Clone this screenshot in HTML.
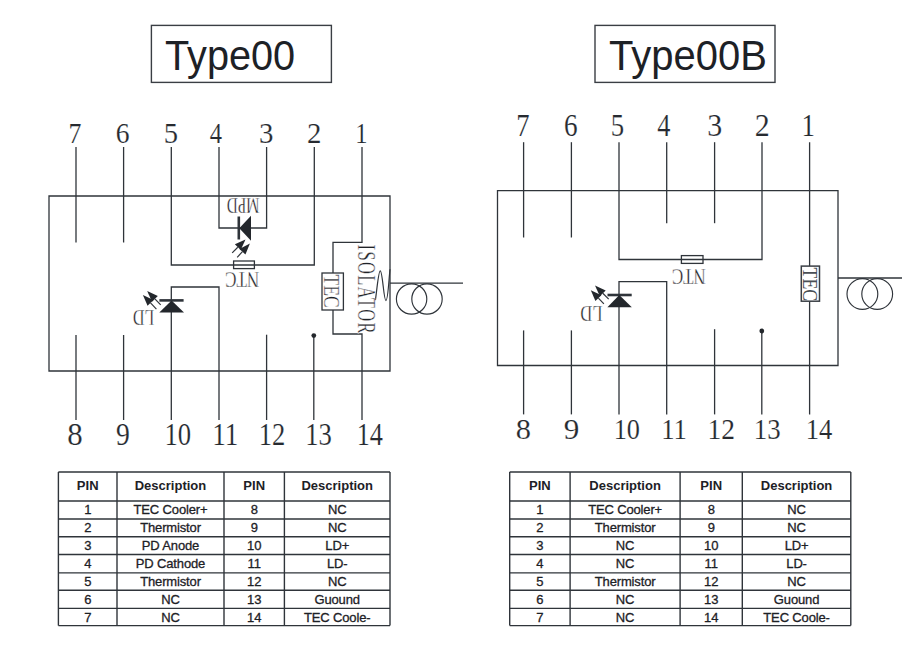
<!DOCTYPE html>
<html><head><meta charset="utf-8"><style>
html,body{margin:0;padding:0;background:#fff;}
body{width:924px;height:646px;overflow:hidden;font-family:"Liberation Sans",sans-serif;}
svg{position:absolute;left:0;top:0;}
</style></head><body>
<svg width="924" height="646" viewBox="0 0 924 646">
<rect x="151.4" y="25.4" width="180" height="57" fill="none" stroke="#3a3e44" stroke-width="1.4"/>
<rect x="595" y="25.4" width="180" height="57" fill="none" stroke="#3a3e44" stroke-width="1.4"/>
<path d="M49,196 H390 V371 H49 Z" fill="none" stroke="#2f343a" stroke-width="1.3"/>
<path d="M76,147 V242.5" fill="none" stroke="#2f343a" stroke-width="1.3"/>
<path d="M123.6,147 V242.5" fill="none" stroke="#2f343a" stroke-width="1.3"/>
<path d="M171.3,147 V265 H314.3 V147" fill="none" stroke="#2f343a" stroke-width="1.3"/>
<path d="M219,147 V228 H266.6 V147" fill="none" stroke="#2f343a" stroke-width="1.3"/>
<path d="M238.8,216.5 V239.5" fill="none" stroke="#2f343a" stroke-width="2.6"/>
<path d="M251,215.8 V240.8 L239.3,228.3 Z" fill="#23272c"/>
<path d="M232.20,252.90 L237.78,247.24" fill="none" stroke="#2f343a" stroke-width="1.2"/>
<path d="M245.50,239.40 L240.70,250.11 L234.86,244.36 Z" fill="#23272c"/>
<path d="M237.20,257.30 L242.42,251.67" fill="none" stroke="#2f343a" stroke-width="1.2"/>
<path d="M249.90,243.60 L245.43,254.45 L239.42,248.88 Z" fill="#23272c"/>
<rect x="233.6" y="261" width="20.8" height="7.6" fill="none" stroke="#2f343a" stroke-width="1.3"/>
<path d="M362,147 V242.4 H333 V273" fill="none" stroke="#2f343a" stroke-width="1.3"/>
<rect x="322" y="273" width="21.4" height="37" fill="none" stroke="#2f343a" stroke-width="1.3"/>
<path d="M333,310 V334 H362 V420" fill="none" stroke="#2f343a" stroke-width="1.3"/>
<path d="M375.4,300.2 C377.5,285 378.5,270.8 380.3,270.8 C382.5,270.8 383.8,300.6 385.9,300.6 C388,300.6 388.8,280 390,269.3" fill="none" stroke="#2f343a" stroke-width="1.2"/>
<path d="M390,283.2 H463" fill="none" stroke="#2f343a" stroke-width="1.3"/>
<circle cx="411.6" cy="299" r="15.2" fill="none" stroke="#2f343a" stroke-width="1.15"/>
<circle cx="427" cy="299" r="15.2" fill="none" stroke="#2f343a" stroke-width="1.15"/>
<path d="M76,335 V420" fill="none" stroke="#2f343a" stroke-width="1.3"/>
<path d="M123.6,335 V420" fill="none" stroke="#2f343a" stroke-width="1.3"/>
<path d="M171.3,420 V287 H219 V420" fill="none" stroke="#2f343a" stroke-width="1.3"/>
<path d="M159.4,300.4 H183.6" fill="none" stroke="#2f343a" stroke-width="2.6"/>
<path d="M159.3,312.6 H184 L171.6,300.4 Z" fill="#23272c"/>
<path d="M156.40,309.10 L150.51,302.95" fill="none" stroke="#2f343a" stroke-width="1.2"/>
<path d="M142.90,295.00 L153.47,300.11 L147.55,305.78 Z" fill="#23272c"/>
<path d="M160.70,304.80 L154.89,298.86" fill="none" stroke="#2f343a" stroke-width="1.2"/>
<path d="M147.20,291.00 L157.82,296.00 L151.96,301.73 Z" fill="#23272c"/>
<path d="M266.6,334.7 V420" fill="none" stroke="#2f343a" stroke-width="1.3"/>
<path d="M313.8,335.6 V420" fill="none" stroke="#2f343a" stroke-width="1.3"/>
<circle cx="313.8" cy="335.6" r="2.4" fill="#23272c"/>
<path d="M497.5,190.6 H838 V365.5 H497.5 Z" fill="none" stroke="#2f343a" stroke-width="1.3"/>
<path d="M523.6,142.2 V237.5" fill="none" stroke="#2f343a" stroke-width="1.3"/>
<path d="M571.4,142.2 V237.5" fill="none" stroke="#2f343a" stroke-width="1.3"/>
<path d="M666.7,142.2 V223.2" fill="none" stroke="#2f343a" stroke-width="1.3"/>
<path d="M714.6,142.2 V223.2" fill="none" stroke="#2f343a" stroke-width="1.3"/>
<path d="M619,142.2 V259.5 H762 V142.2" fill="none" stroke="#2f343a" stroke-width="1.3"/>
<rect x="681.4" y="255.6" width="21.6" height="7.8" fill="none" stroke="#2f343a" stroke-width="1.3"/>
<path d="M809.6,142.2 V414.4" fill="none" stroke="#2f343a" stroke-width="1.3"/>
<rect x="801.3" y="266.1" width="18.2" height="35.1" fill="#fff" stroke="#3a3f45" stroke-width="1.5"/>
<path d="M523.6,330.4 V414.4" fill="none" stroke="#2f343a" stroke-width="1.3"/>
<path d="M571.4,330.4 V414.4" fill="none" stroke="#2f343a" stroke-width="1.3"/>
<path d="M714.6,329.2 V414.4" fill="none" stroke="#2f343a" stroke-width="1.3"/>
<path d="M761.8,331 V414.4" fill="none" stroke="#2f343a" stroke-width="1.3"/>
<circle cx="761.8" cy="331" r="2.4" fill="#23272c"/>
<path d="M619,414.4 V281.7 H666.7 V414.4" fill="none" stroke="#2f343a" stroke-width="1.3"/>
<path d="M607.5,295 H631.7" fill="none" stroke="#2f343a" stroke-width="2.6"/>
<path d="M607.4,307.3 H631.8 L619.3,295 Z" fill="#23272c"/>
<path d="M603.90,303.90 L598.40,298.15" fill="none" stroke="#2f343a" stroke-width="1.2"/>
<path d="M590.80,290.20 L601.37,295.32 L595.44,300.98 Z" fill="#23272c"/>
<path d="M608.70,299.20 L602.78,293.28" fill="none" stroke="#2f343a" stroke-width="1.2"/>
<path d="M595.00,285.50 L605.68,290.38 L599.88,296.18 Z" fill="#23272c"/>
<path d="M838,278 H902" fill="none" stroke="#2f343a" stroke-width="1.3"/>
<circle cx="862.4" cy="294" r="15.4" fill="none" stroke="#2f343a" stroke-width="1.15"/>
<circle cx="877.2" cy="294" r="15.4" fill="none" stroke="#2f343a" stroke-width="1.15"/>
<path d="M58.4,472 H390" fill="none" stroke="#2f343a" stroke-width="1.4"/>
<path d="M58.4,501 H390" fill="none" stroke="#2f343a" stroke-width="1.4"/>
<path d="M58.4,519 H390" fill="none" stroke="#2f343a" stroke-width="1.4"/>
<path d="M58.4,536.8 H390" fill="none" stroke="#2f343a" stroke-width="1.4"/>
<path d="M58.4,554.5 H390" fill="none" stroke="#2f343a" stroke-width="1.4"/>
<path d="M58.4,572.9 H390" fill="none" stroke="#2f343a" stroke-width="1.4"/>
<path d="M58.4,590.3 H390" fill="none" stroke="#2f343a" stroke-width="1.4"/>
<path d="M58.4,608.4 H390" fill="none" stroke="#2f343a" stroke-width="1.4"/>
<path d="M58.4,625.6 H390" fill="none" stroke="#2f343a" stroke-width="1.4"/>
<path d="M58.4,472 V625.6" fill="none" stroke="#2f343a" stroke-width="1.4"/>
<path d="M117,472 V625.6" fill="none" stroke="#2f343a" stroke-width="1.4"/>
<path d="M224,472 V625.6" fill="none" stroke="#2f343a" stroke-width="1.4"/>
<path d="M284.4,472 V625.6" fill="none" stroke="#2f343a" stroke-width="1.4"/>
<path d="M390,472 V625.6" fill="none" stroke="#2f343a" stroke-width="1.4"/>
<text x="87.70" y="490" text-anchor="middle" font-family="Liberation Sans" font-weight="bold" font-size="13" fill="#1d2126">PIN</text>
<text x="170.50" y="490" text-anchor="middle" font-family="Liberation Sans" font-weight="bold" font-size="13" fill="#1d2126">Description</text>
<text x="254.20" y="490" text-anchor="middle" font-family="Liberation Sans" font-weight="bold" font-size="13" fill="#1d2126">PIN</text>
<text x="337.20" y="490" text-anchor="middle" font-family="Liberation Sans" font-weight="bold" font-size="13" fill="#1d2126">Description</text>
<text x="87.70" y="514.4" text-anchor="middle" font-family="Liberation Sans" font-size="13" fill="#1d2126" stroke="#1d2126" stroke-width="0.3" letter-spacing="-0.15">1</text>
<text x="170.50" y="514.4" text-anchor="middle" font-family="Liberation Sans" font-size="13" fill="#1d2126" stroke="#1d2126" stroke-width="0.3" letter-spacing="-0.15">TEC Cooler+</text>
<text x="254.20" y="514.4" text-anchor="middle" font-family="Liberation Sans" font-size="13" fill="#1d2126" stroke="#1d2126" stroke-width="0.3" letter-spacing="-0.15">8</text>
<text x="337.20" y="514.4" text-anchor="middle" font-family="Liberation Sans" font-size="13" fill="#1d2126" stroke="#1d2126" stroke-width="0.3" letter-spacing="-0.15">NC</text>
<text x="87.70" y="532.4" text-anchor="middle" font-family="Liberation Sans" font-size="13" fill="#1d2126" stroke="#1d2126" stroke-width="0.3" letter-spacing="-0.15">2</text>
<text x="170.50" y="532.4" text-anchor="middle" font-family="Liberation Sans" font-size="13" fill="#1d2126" stroke="#1d2126" stroke-width="0.3" letter-spacing="-0.15">Thermistor</text>
<text x="254.20" y="532.4" text-anchor="middle" font-family="Liberation Sans" font-size="13" fill="#1d2126" stroke="#1d2126" stroke-width="0.3" letter-spacing="-0.15">9</text>
<text x="337.20" y="532.4" text-anchor="middle" font-family="Liberation Sans" font-size="13" fill="#1d2126" stroke="#1d2126" stroke-width="0.3" letter-spacing="-0.15">NC</text>
<text x="87.70" y="550.1999999999999" text-anchor="middle" font-family="Liberation Sans" font-size="13" fill="#1d2126" stroke="#1d2126" stroke-width="0.3" letter-spacing="-0.15">3</text>
<text x="170.50" y="550.1999999999999" text-anchor="middle" font-family="Liberation Sans" font-size="13" fill="#1d2126" stroke="#1d2126" stroke-width="0.3" letter-spacing="-0.15">PD Anode</text>
<text x="254.20" y="550.1999999999999" text-anchor="middle" font-family="Liberation Sans" font-size="13" fill="#1d2126" stroke="#1d2126" stroke-width="0.3" letter-spacing="-0.15">10</text>
<text x="337.20" y="550.1999999999999" text-anchor="middle" font-family="Liberation Sans" font-size="13" fill="#1d2126" stroke="#1d2126" stroke-width="0.3" letter-spacing="-0.15">LD+</text>
<text x="87.70" y="567.9" text-anchor="middle" font-family="Liberation Sans" font-size="13" fill="#1d2126" stroke="#1d2126" stroke-width="0.3" letter-spacing="-0.15">4</text>
<text x="170.50" y="567.9" text-anchor="middle" font-family="Liberation Sans" font-size="13" fill="#1d2126" stroke="#1d2126" stroke-width="0.3" letter-spacing="-0.15">PD Cathode</text>
<text x="254.20" y="567.9" text-anchor="middle" font-family="Liberation Sans" font-size="13" fill="#1d2126" stroke="#1d2126" stroke-width="0.3" letter-spacing="-0.15">11</text>
<text x="337.20" y="567.9" text-anchor="middle" font-family="Liberation Sans" font-size="13" fill="#1d2126" stroke="#1d2126" stroke-width="0.3" letter-spacing="-0.15">LD-</text>
<text x="87.70" y="586.3" text-anchor="middle" font-family="Liberation Sans" font-size="13" fill="#1d2126" stroke="#1d2126" stroke-width="0.3" letter-spacing="-0.15">5</text>
<text x="170.50" y="586.3" text-anchor="middle" font-family="Liberation Sans" font-size="13" fill="#1d2126" stroke="#1d2126" stroke-width="0.3" letter-spacing="-0.15">Thermistor</text>
<text x="254.20" y="586.3" text-anchor="middle" font-family="Liberation Sans" font-size="13" fill="#1d2126" stroke="#1d2126" stroke-width="0.3" letter-spacing="-0.15">12</text>
<text x="337.20" y="586.3" text-anchor="middle" font-family="Liberation Sans" font-size="13" fill="#1d2126" stroke="#1d2126" stroke-width="0.3" letter-spacing="-0.15">NC</text>
<text x="87.70" y="603.6999999999999" text-anchor="middle" font-family="Liberation Sans" font-size="13" fill="#1d2126" stroke="#1d2126" stroke-width="0.3" letter-spacing="-0.15">6</text>
<text x="170.50" y="603.6999999999999" text-anchor="middle" font-family="Liberation Sans" font-size="13" fill="#1d2126" stroke="#1d2126" stroke-width="0.3" letter-spacing="-0.15">NC</text>
<text x="254.20" y="603.6999999999999" text-anchor="middle" font-family="Liberation Sans" font-size="13" fill="#1d2126" stroke="#1d2126" stroke-width="0.3" letter-spacing="-0.15">13</text>
<text x="337.20" y="603.6999999999999" text-anchor="middle" font-family="Liberation Sans" font-size="13" fill="#1d2126" stroke="#1d2126" stroke-width="0.3" letter-spacing="-0.15">Guound</text>
<text x="87.70" y="621.8" text-anchor="middle" font-family="Liberation Sans" font-size="13" fill="#1d2126" stroke="#1d2126" stroke-width="0.3" letter-spacing="-0.15">7</text>
<text x="170.50" y="621.8" text-anchor="middle" font-family="Liberation Sans" font-size="13" fill="#1d2126" stroke="#1d2126" stroke-width="0.3" letter-spacing="-0.15">NC</text>
<text x="254.20" y="621.8" text-anchor="middle" font-family="Liberation Sans" font-size="13" fill="#1d2126" stroke="#1d2126" stroke-width="0.3" letter-spacing="-0.15">14</text>
<text x="337.20" y="621.8" text-anchor="middle" font-family="Liberation Sans" font-size="13" fill="#1d2126" stroke="#1d2126" stroke-width="0.3" letter-spacing="-0.15">TEC Coole-</text>
<path d="M509.7,472 H850.8" fill="none" stroke="#2f343a" stroke-width="1.4"/>
<path d="M509.7,501 H850.8" fill="none" stroke="#2f343a" stroke-width="1.4"/>
<path d="M509.7,519 H850.8" fill="none" stroke="#2f343a" stroke-width="1.4"/>
<path d="M509.7,536.8 H850.8" fill="none" stroke="#2f343a" stroke-width="1.4"/>
<path d="M509.7,554.5 H850.8" fill="none" stroke="#2f343a" stroke-width="1.4"/>
<path d="M509.7,572.9 H850.8" fill="none" stroke="#2f343a" stroke-width="1.4"/>
<path d="M509.7,590.3 H850.8" fill="none" stroke="#2f343a" stroke-width="1.4"/>
<path d="M509.7,608.4 H850.8" fill="none" stroke="#2f343a" stroke-width="1.4"/>
<path d="M509.7,625.6 H850.8" fill="none" stroke="#2f343a" stroke-width="1.4"/>
<path d="M509.7,472 V625.6" fill="none" stroke="#2f343a" stroke-width="1.4"/>
<path d="M570.1,472 V625.6" fill="none" stroke="#2f343a" stroke-width="1.4"/>
<path d="M680.1,472 V625.6" fill="none" stroke="#2f343a" stroke-width="1.4"/>
<path d="M742.3,472 V625.6" fill="none" stroke="#2f343a" stroke-width="1.4"/>
<path d="M850.8,472 V625.6" fill="none" stroke="#2f343a" stroke-width="1.4"/>
<text x="539.90" y="490" text-anchor="middle" font-family="Liberation Sans" font-weight="bold" font-size="13" fill="#1d2126">PIN</text>
<text x="625.10" y="490" text-anchor="middle" font-family="Liberation Sans" font-weight="bold" font-size="13" fill="#1d2126">Description</text>
<text x="711.20" y="490" text-anchor="middle" font-family="Liberation Sans" font-weight="bold" font-size="13" fill="#1d2126">PIN</text>
<text x="796.55" y="490" text-anchor="middle" font-family="Liberation Sans" font-weight="bold" font-size="13" fill="#1d2126">Description</text>
<text x="539.90" y="514.4" text-anchor="middle" font-family="Liberation Sans" font-size="13" fill="#1d2126" stroke="#1d2126" stroke-width="0.3" letter-spacing="-0.15">1</text>
<text x="625.10" y="514.4" text-anchor="middle" font-family="Liberation Sans" font-size="13" fill="#1d2126" stroke="#1d2126" stroke-width="0.3" letter-spacing="-0.15">TEC Cooler+</text>
<text x="711.20" y="514.4" text-anchor="middle" font-family="Liberation Sans" font-size="13" fill="#1d2126" stroke="#1d2126" stroke-width="0.3" letter-spacing="-0.15">8</text>
<text x="796.55" y="514.4" text-anchor="middle" font-family="Liberation Sans" font-size="13" fill="#1d2126" stroke="#1d2126" stroke-width="0.3" letter-spacing="-0.15">NC</text>
<text x="539.90" y="532.4" text-anchor="middle" font-family="Liberation Sans" font-size="13" fill="#1d2126" stroke="#1d2126" stroke-width="0.3" letter-spacing="-0.15">2</text>
<text x="625.10" y="532.4" text-anchor="middle" font-family="Liberation Sans" font-size="13" fill="#1d2126" stroke="#1d2126" stroke-width="0.3" letter-spacing="-0.15">Thermistor</text>
<text x="711.20" y="532.4" text-anchor="middle" font-family="Liberation Sans" font-size="13" fill="#1d2126" stroke="#1d2126" stroke-width="0.3" letter-spacing="-0.15">9</text>
<text x="796.55" y="532.4" text-anchor="middle" font-family="Liberation Sans" font-size="13" fill="#1d2126" stroke="#1d2126" stroke-width="0.3" letter-spacing="-0.15">NC</text>
<text x="539.90" y="550.1999999999999" text-anchor="middle" font-family="Liberation Sans" font-size="13" fill="#1d2126" stroke="#1d2126" stroke-width="0.3" letter-spacing="-0.15">3</text>
<text x="625.10" y="550.1999999999999" text-anchor="middle" font-family="Liberation Sans" font-size="13" fill="#1d2126" stroke="#1d2126" stroke-width="0.3" letter-spacing="-0.15">NC</text>
<text x="711.20" y="550.1999999999999" text-anchor="middle" font-family="Liberation Sans" font-size="13" fill="#1d2126" stroke="#1d2126" stroke-width="0.3" letter-spacing="-0.15">10</text>
<text x="796.55" y="550.1999999999999" text-anchor="middle" font-family="Liberation Sans" font-size="13" fill="#1d2126" stroke="#1d2126" stroke-width="0.3" letter-spacing="-0.15">LD+</text>
<text x="539.90" y="567.9" text-anchor="middle" font-family="Liberation Sans" font-size="13" fill="#1d2126" stroke="#1d2126" stroke-width="0.3" letter-spacing="-0.15">4</text>
<text x="625.10" y="567.9" text-anchor="middle" font-family="Liberation Sans" font-size="13" fill="#1d2126" stroke="#1d2126" stroke-width="0.3" letter-spacing="-0.15">NC</text>
<text x="711.20" y="567.9" text-anchor="middle" font-family="Liberation Sans" font-size="13" fill="#1d2126" stroke="#1d2126" stroke-width="0.3" letter-spacing="-0.15">11</text>
<text x="796.55" y="567.9" text-anchor="middle" font-family="Liberation Sans" font-size="13" fill="#1d2126" stroke="#1d2126" stroke-width="0.3" letter-spacing="-0.15">LD-</text>
<text x="539.90" y="586.3" text-anchor="middle" font-family="Liberation Sans" font-size="13" fill="#1d2126" stroke="#1d2126" stroke-width="0.3" letter-spacing="-0.15">5</text>
<text x="625.10" y="586.3" text-anchor="middle" font-family="Liberation Sans" font-size="13" fill="#1d2126" stroke="#1d2126" stroke-width="0.3" letter-spacing="-0.15">Thermistor</text>
<text x="711.20" y="586.3" text-anchor="middle" font-family="Liberation Sans" font-size="13" fill="#1d2126" stroke="#1d2126" stroke-width="0.3" letter-spacing="-0.15">12</text>
<text x="796.55" y="586.3" text-anchor="middle" font-family="Liberation Sans" font-size="13" fill="#1d2126" stroke="#1d2126" stroke-width="0.3" letter-spacing="-0.15">NC</text>
<text x="539.90" y="603.6999999999999" text-anchor="middle" font-family="Liberation Sans" font-size="13" fill="#1d2126" stroke="#1d2126" stroke-width="0.3" letter-spacing="-0.15">6</text>
<text x="625.10" y="603.6999999999999" text-anchor="middle" font-family="Liberation Sans" font-size="13" fill="#1d2126" stroke="#1d2126" stroke-width="0.3" letter-spacing="-0.15">NC</text>
<text x="711.20" y="603.6999999999999" text-anchor="middle" font-family="Liberation Sans" font-size="13" fill="#1d2126" stroke="#1d2126" stroke-width="0.3" letter-spacing="-0.15">13</text>
<text x="796.55" y="603.6999999999999" text-anchor="middle" font-family="Liberation Sans" font-size="13" fill="#1d2126" stroke="#1d2126" stroke-width="0.3" letter-spacing="-0.15">Guound</text>
<text x="539.90" y="621.8" text-anchor="middle" font-family="Liberation Sans" font-size="13" fill="#1d2126" stroke="#1d2126" stroke-width="0.3" letter-spacing="-0.15">7</text>
<text x="625.10" y="621.8" text-anchor="middle" font-family="Liberation Sans" font-size="13" fill="#1d2126" stroke="#1d2126" stroke-width="0.3" letter-spacing="-0.15">NC</text>
<text x="711.20" y="621.8" text-anchor="middle" font-family="Liberation Sans" font-size="13" fill="#1d2126" stroke="#1d2126" stroke-width="0.3" letter-spacing="-0.15">14</text>
<text x="796.55" y="621.8" text-anchor="middle" font-family="Liberation Sans" font-size="13" fill="#1d2126" stroke="#1d2126" stroke-width="0.3" letter-spacing="-0.15">TEC Coole-</text>
<text transform="translate(165.00,69.50) scale(0.9923,1.0750)" font-family="Liberation Sans" font-size="40" fill="#1d2126">Type00</text>
<text transform="translate(609.00,69.50) scale(1.0000,1.0750)" font-family="Liberation Sans" font-size="40" fill="#1d2126">Type00B</text>
<text transform="translate(259.60,198.40) rotate(180) scale(0.6037,0.9000)" font-family="Liberation Serif" font-size="25" fill="#1f2328" stroke="#fff" stroke-width="0.4">MPD</text>
<text transform="translate(259.30,272.30) rotate(180) scale(0.6857,0.9412)" font-family="Liberation Serif" font-size="25" fill="#1f2328" stroke="#fff" stroke-width="0.4">NTC</text>
<text transform="translate(324.00,274.50) rotate(90) scale(0.7065,0.9412)" font-family="Liberation Serif" font-size="25" fill="#1f2328" stroke="#fff" stroke-width="0.4">TEC</text>
<text transform="translate(358.00,244.54) rotate(90) scale(0.6624,0.9882)" font-family="Liberation Serif" font-size="25" fill="#1f2328" stroke="#fff" stroke-width="0.4" letter-spacing="2">ISOLATOR</text>
<text transform="translate(154.20,309.60) rotate(180) scale(0.6394,0.9235)" font-family="Liberation Serif" font-size="25" fill="#1f2328" stroke="#fff" stroke-width="0.4">LD</text>
<text transform="translate(68.54,143.30) scale(0.8643,1.0053)" font-family="Liberation Serif" font-size="30" fill="#262a30" stroke="#fff" stroke-width="0.15">7</text>
<text transform="translate(115.68,143.30) scale(0.9214,1.0053)" font-family="Liberation Serif" font-size="30" fill="#262a30" stroke="#fff" stroke-width="0.15">6</text>
<text transform="translate(163.85,143.30) scale(0.9538,1.0053)" font-family="Liberation Serif" font-size="30" fill="#262a30" stroke="#fff" stroke-width="0.15">5</text>
<text transform="translate(209.70,143.30) scale(0.8200,1.0053)" font-family="Liberation Serif" font-size="30" fill="#262a30" stroke="#fff" stroke-width="0.15">4</text>
<text transform="translate(259.04,143.30) scale(0.9615,1.0053)" font-family="Liberation Serif" font-size="30" fill="#262a30" stroke="#fff" stroke-width="0.15">3</text>
<text transform="translate(307.04,143.30) scale(0.9615,1.0053)" font-family="Liberation Serif" font-size="30" fill="#262a30" stroke="#fff" stroke-width="0.15">2</text>
<text transform="translate(355.36,143.30) scale(0.8182,1.0053)" font-family="Liberation Serif" font-size="30" fill="#262a30" stroke="#fff" stroke-width="0.15">1</text>
<text transform="translate(67.17,444.50) scale(1.0308,1.0263)" font-family="Liberation Serif" font-size="30" fill="#262a30" stroke="#fff" stroke-width="0.15">8</text>
<text transform="translate(116.08,444.50) scale(0.9231,1.0263)" font-family="Liberation Serif" font-size="30" fill="#262a30" stroke="#fff" stroke-width="0.15">9</text>
<text transform="translate(164.52,444.50) scale(0.8893,1.0263)" font-family="Liberation Serif" font-size="30" fill="#262a30" stroke="#fff" stroke-width="0.15">10</text>
<text transform="translate(212.18,444.50) scale(0.9080,1.0263)" font-family="Liberation Serif" font-size="30" fill="#262a30" stroke="#fff" stroke-width="0.15">11</text>
<text transform="translate(258.73,444.50) scale(0.8852,1.0263)" font-family="Liberation Serif" font-size="30" fill="#262a30" stroke="#fff" stroke-width="0.15">12</text>
<text transform="translate(305.22,444.50) scale(0.8889,1.0263)" font-family="Liberation Serif" font-size="30" fill="#262a30" stroke="#fff" stroke-width="0.15">13</text>
<text transform="translate(356.75,444.50) scale(0.8750,1.0263)" font-family="Liberation Serif" font-size="30" fill="#262a30" stroke="#fff" stroke-width="0.15">14</text>
<text transform="translate(705.80,268.60) rotate(180) scale(0.6796,0.9176)" font-family="Liberation Serif" font-size="25" fill="#1f2328" stroke="#fff" stroke-width="0.4">NTC</text>
<text transform="translate(802.80,267.50) rotate(90) scale(0.7130,0.8706)" font-family="Liberation Serif" font-size="25" fill="#4a4f55">TEC</text>
<text transform="translate(602.40,305.70) rotate(180) scale(0.6576,0.9118)" font-family="Liberation Serif" font-size="25" fill="#1f2328" stroke="#fff" stroke-width="0.4">LD</text>
<text transform="translate(516.21,136.00) scale(0.8857,1.0368)" font-family="Liberation Serif" font-size="30" fill="#262a30" stroke="#fff" stroke-width="0.15">7</text>
<text transform="translate(563.89,136.00) scale(0.9071,1.0368)" font-family="Liberation Serif" font-size="30" fill="#262a30" stroke="#fff" stroke-width="0.15">6</text>
<text transform="translate(610.81,136.00) scale(0.8923,1.0368)" font-family="Liberation Serif" font-size="30" fill="#262a30" stroke="#fff" stroke-width="0.15">5</text>
<text transform="translate(657.30,136.00) scale(0.8800,1.0368)" font-family="Liberation Serif" font-size="30" fill="#262a30" stroke="#fff" stroke-width="0.15">4</text>
<text transform="translate(707.20,136.00) scale(1.0000,1.0368)" font-family="Liberation Serif" font-size="30" fill="#262a30" stroke="#fff" stroke-width="0.15">3</text>
<text transform="translate(754.80,136.00) scale(1.0000,1.0368)" font-family="Liberation Serif" font-size="30" fill="#262a30" stroke="#fff" stroke-width="0.15">2</text>
<text transform="translate(801.60,136.00) scale(0.9000,1.0368)" font-family="Liberation Serif" font-size="30" fill="#262a30" stroke="#fff" stroke-width="0.15">1</text>
<text transform="translate(515.68,439.20) scale(1.0154,1.0105)" font-family="Liberation Serif" font-size="30" fill="#262a30" stroke="#fff" stroke-width="0.15">8</text>
<text transform="translate(563.66,439.20) scale(1.0385,1.0105)" font-family="Liberation Serif" font-size="30" fill="#262a30" stroke="#fff" stroke-width="0.15">9</text>
<text transform="translate(613.75,439.20) scale(0.8750,1.0105)" font-family="Liberation Serif" font-size="30" fill="#262a30" stroke="#fff" stroke-width="0.15">10</text>
<text transform="translate(661.22,439.20) scale(0.8880,1.0105)" font-family="Liberation Serif" font-size="30" fill="#262a30" stroke="#fff" stroke-width="0.15">11</text>
<text transform="translate(707.47,439.20) scale(0.9148,1.0105)" font-family="Liberation Serif" font-size="30" fill="#262a30" stroke="#fff" stroke-width="0.15">12</text>
<text transform="translate(753.81,439.20) scale(0.8926,1.0105)" font-family="Liberation Serif" font-size="30" fill="#262a30" stroke="#fff" stroke-width="0.15">13</text>
<text transform="translate(805.83,439.20) scale(0.8857,1.0105)" font-family="Liberation Serif" font-size="30" fill="#262a30" stroke="#fff" stroke-width="0.15">14</text>
</svg>
</body></html>
